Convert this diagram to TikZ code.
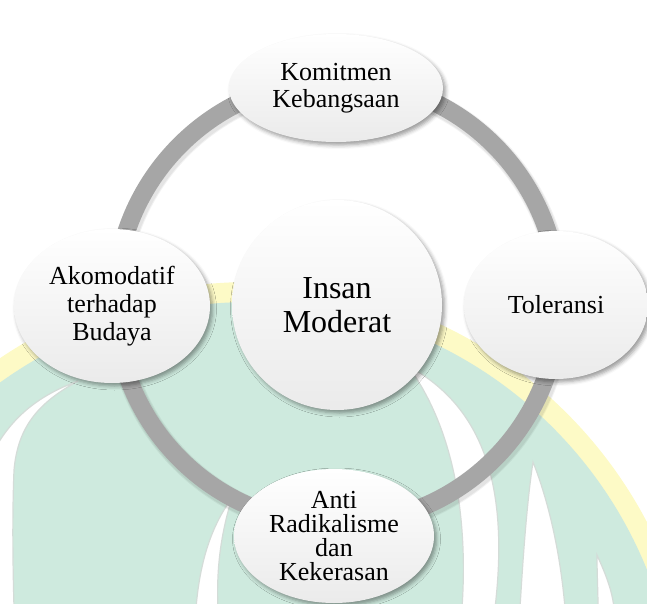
\documentclass[tikz,border=0pt]{standalone}
\usepackage{fontspec}
\setmainfont{Liberation Serif}
\usetikzlibrary{shapes.geometric,shadows.blur}
\definecolor{ringgray}{RGB}{166,166,166}
\definecolor{wmgreen}{RGB}{206,234,222}
\definecolor{wmyellow}{RGB}{253,250,198}
\definecolor{featheredge}{RGB}{212,220,216}
\begin{document}
\begin{tikzpicture}[x=1pt,y=-1pt,
  bubble/.style={inner sep=0pt, align=center, top color=white, bottom color=black!8,
    blur shadow={shadow xshift=2.5pt, shadow yshift=-3pt, shadow blur radius=4pt, shadow opacity=40}},
  oval/.style={bubble, ellipse},
  feather/.style={fill=white, draw=featheredge, line width=1.2pt}
]
\useasboundingbox (0,0) rectangle (647,604);
% faint watermark in the background
\begin{scope}
  \clip (0,0) rectangle (647,604);
  \fill[wmyellow] (250,730) circle (448);
  \fill[wmgreen] (250,730) circle (428);
  \path[feather] (-3,608) -- (-3,445) .. controls (15,415) and (40,395) .. (78,381)
                 .. controls (40,402) and (18,425) .. (14,470)
                 .. controls (12,520) and (13,570) .. (14,608) -- cycle;
  \path[feather] (196,608) .. controls (200,560) and (212,525) .. (232,498)
                 .. controls (222,530) and (216,565) .. (218,608) -- cycle;
  \path[feather] (462,608) .. controls (468,520) and (455,430) .. (408,366)
                 .. controls (480,405) and (510,480) .. (495,608) -- cycle;
  \path[feather] (520,608) .. controls (524,540) and (528,495) .. (533,462)
                 .. controls (548,500) and (560,550) .. (565,608) -- cycle;
  \path[feather] (598,608) .. controls (598,590) and (597,575) .. (597,555)
                 .. controls (606,575) and (612,590) .. (614,608) -- cycle;
\end{scope}
% ring
\coordinate (hub) at (337,302);
\draw[line width=22pt, black, opacity=0.05] ([shift={(1.5,2.5)}]hub) circle (222);
\draw[line width=20pt, black, opacity=0.06] ([shift={(1.5,2.5)}]hub) circle (222);
\draw[line width=18pt, ringgray] (hub) circle (222);
% nodes
\node[oval, minimum width=214pt, minimum height=108pt, font=\fontsize{26}{26.5}\selectfont]
  (komitmen) at (336,88) {Komitmen\\Kebangsaan};
\node[oval, minimum width=196pt, minimum height=154pt, font=\fontsize{26}{27.8}\selectfont]
  (akomodatif) at (112,306) {Akomodatif\\terhadap\\Budaya};
\node[oval, minimum width=184pt, minimum height=148pt, font=\fontsize{26}{26}\selectfont]
  (toleransi) at (556,305) {Toleransi};
\node[oval, minimum width=200pt, minimum height=134pt, font=\fontsize{26}{23.9}\selectfont]
  (anti) at (334,536) {Anti\\Radikalisme\\dan\\Kekerasan};
\node[bubble, circle, minimum size=210pt, font=\fontsize{32}{33.4}\selectfont]
  (insan) at (337,305) {Insan\\Moderat};
\end{tikzpicture}
\end{document}
